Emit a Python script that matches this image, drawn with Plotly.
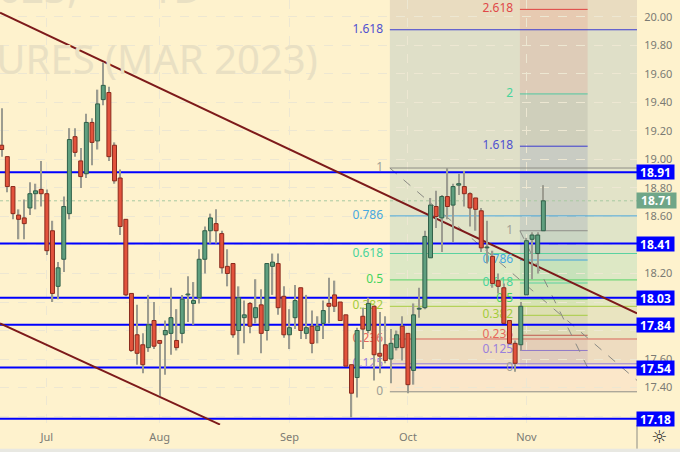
import plotly.graph_objects as go

FONT = "Noto Sans"
BG = "#fef2cd"

# daily candles, index 0 is the first bar on the left
opens = [19.10, 19.02, 18.81, 18.61, 18.59, 18.66, 18.76, 18.79, 18.76, 18.50,
         18.11, 18.30, 18.62, 19.16, 18.99, 18.90, 19.26, 19.13, 19.42, 19.47,
         19.10, 18.87, 18.58, 18.06, 17.77, 17.70, 17.68, 17.87, 17.73, 17.77,
         17.78, 17.73, 17.78, 18.05, 17.99, 18.03, 18.30, 18.50, 18.55, 18.48,
         18.25, 18.27, 17.80, 17.89, 17.99, 17.89, 17.98, 17.80, 18.25, 18.27,
         18.04, 17.77, 17.89, 18.10, 17.78, 17.83, 17.80, 17.85, 17.99, 18.05,
         18.00, 17.91, 17.56, 17.47, 17.90, 17.80, 17.97, 17.64, 17.70, 17.60,
         17.68, 17.83, 17.78, 17.52, 17.95, 17.96, 18.31, 18.67, 18.59, 18.74,
         18.68, 18.82, 18.81, 18.76, 18.73, 18.64, 18.38, 18.32, 18.15, 18.10,
         17.87, 17.71, 17.70, 18.05, 18.44, 18.34, 18.50]
highs = [19.36, 19.02, 18.81, 18.65, 18.72, 18.84, 18.83, 18.99, 18.79, 18.57,
         18.28, 18.74, 19.22, 19.22, 19.08, 19.32, 19.29, 19.49, 19.68, 19.51,
         19.12, 18.93, 18.58, 18.06, 17.98, 17.78, 18.05, 18.00, 17.73, 17.87,
         18.10, 17.95, 18.05, 18.18, 18.14, 18.37, 18.53, 18.62, 18.65, 18.50,
         18.37, 18.27, 18.11, 18.01, 18.00, 18.16, 18.09, 18.27, 18.34, 18.34,
         18.11, 17.95, 18.12, 18.10, 18.05, 17.94, 17.90, 18.01, 18.17, 18.15,
         18.00, 17.91, 17.56, 17.82, 17.96, 18.03, 17.97, 17.93, 17.90, 17.81,
         17.80, 17.90, 17.78, 17.99, 18.10, 18.50, 18.73, 18.78, 18.75, 18.94,
         18.83, 18.90, 18.92, 18.77, 18.73, 18.66, 18.57, 18.36, 18.20, 18.13,
         17.87, 17.73, 18.00, 18.45, 18.49, 18.49, 18.82]
lows = [19.02, 18.77, 18.58, 18.44, 18.44, 18.61, 18.65, 18.67, 18.33, 18.00,
        18.02, 18.21, 18.58, 19.02, 18.80, 18.87, 18.96, 19.07, 19.38, 18.99,
        18.83, 18.47, 18.04, 17.65, 17.56, 17.50, 17.65, 17.67, 17.34, 17.49,
        17.63, 17.66, 17.71, 17.86, 17.84, 17.99, 18.20, 18.41, 18.41, 18.20,
        18.11, 17.75, 17.63, 17.71, 17.78, 17.85, 17.64, 17.73, 18.05, 17.91,
        17.75, 17.67, 17.81, 17.74, 17.74, 17.64, 17.71, 17.74, 17.85, 17.93,
        17.87, 17.55, 17.19, 17.33, 17.67, 17.78, 17.45, 17.50, 17.57, 17.43,
        17.66, 17.59, 17.36, 17.42, 17.89, 17.95, 18.31, 18.52, 18.35, 18.58,
        18.42, 18.75, 18.67, 18.53, 18.50, 18.35, 18.27, 18.10, 18.06, 17.85,
        17.71, 17.51, 17.66, 18.05, 18.16, 18.20, 18.50]
closes = [19.07, 18.81, 18.62, 18.58, 18.55, 18.76, 18.78, 18.76, 18.36, 18.06,
          18.24, 18.67, 19.14, 19.05, 18.88, 19.26, 19.12, 19.39, 19.52, 19.02,
          18.85, 18.53, 18.05, 17.66, 17.64, 17.56, 17.84, 17.69, 17.71, 17.80,
          17.89, 17.68, 18.02, 18.05, 18.01, 18.30, 18.50, 18.59, 18.50, 18.24,
          18.20, 17.77, 18.03, 17.91, 17.83, 17.96, 17.78, 18.27, 18.28, 17.96,
          17.77, 17.82, 18.01, 17.80, 17.82, 17.71, 17.83, 17.94, 17.97, 17.97,
          17.87, 17.55, 17.36, 17.80, 17.81, 17.99, 17.63, 17.62, 17.59, 17.71,
          17.77, 17.68, 17.42, 17.91, 17.95, 18.46, 18.68, 18.60, 18.74, 18.67,
          18.81, 18.83, 18.76, 18.66, 18.65, 18.38, 18.38, 18.13, 18.11, 17.85,
          17.71, 17.57, 17.97, 18.43, 18.47, 18.47, 18.71]

month_idx = [8, 28, 51, 72, 93]
month_labels = ["Jul", "Aug", "Sep", "Oct", "Nov"]

price_ticks = [20.0, 19.8, 19.6, 19.4, 19.2, 19.0, 18.8, 18.6, 18.4, 18.2, 18.0, 17.8, 17.6, 17.4, 17.2]
price_labels = ["20.00", "19.80", "19.60", "19.40", "19.20", "19.00", "18.80", "18.60", "",
                "18.20", "", "", "17.60", "17.40", ""]

support_levels = [18.91, 18.41, 18.03, 17.84, 17.54, 17.18]
last_price = 18.71

# brown trend lines: bar index and price at each end
trend_x = [[-0.3, 112.6], [-0.3, 38.7]]
trend_y = [[20.03, 17.92], [17.85, 17.14]]

# fib retracement
fib_x = [68.8, 112.6]
fib_base = 17.37
fib_top = 18.94
fib_ratios = [0, 0.125, 0.236, 0.382, 0.5, 0.618, 0.786, 1, 1.618]
fib_labels = ["0", "0.125", "0.236", "0.382", "0.5", "0.618", "0.786", "1", "1.618"]
fib_line_colors = ["#8f8f88", "#8f78d8", "#d9655a", "#a8cc44", "#58d468", "#5ad2a0", "#45a5dc", "#8f8f88", "#3a3ad0"]
fib_text_colors = ["#a0a096", "#9a80dc", "#e8685c", "#a4cc3c", "#44d45c", "#48d49c", "#48a8e0", "#a0a096", "#5050d0"]
fib_fills = ["#fbe7c9", "#eedcc0", "#e9e4c0", "#e3e8c2", "#dde8c5", "#e0e4c8", "#e2e3c8", "#dfdfc8", "#e9dcc0"]

# trend based fib extension
ext_x = [91.85, 103.85]
ext_base = 17.54
ext_top = 18.50
ext_ratios = [0, 0.125, 0.236, 0.382, 0.5, 0.618, 0.786, 1, 1.618, 2, 2.618]
ext_labels = ["0", "0.125", "0.236", "0.382", "0.5", "0.618", "0.786", "1", "1.618", "2", "2.618"]
ext_line_colors = ["#8f8f88", "#8f78c8", "#c05a50", "#a8cc44", "#58d468", "#5ad2a0", "#45a5dc", "#8f8f88", "#3a3ad0", "#50c8a0", "#e04040"]
ext_text_colors = ["#a0a096", "#9a80dc", "#e8685c", "#a4cc3c", "#44d45c", "#48d49c", "#48a8e0", "#a0a096", "#5050d0", "#48d49c", "#e04848"]
ext_fills = ["rgba(120,90,170,0.12)", "rgba(150,90,110,0.10)", "rgba(110,130,90,0.10)",
             "rgba(120,190,60,0.10)", "rgba(70,200,90,0.12)", "rgba(70,190,130,0.14)",
             "rgba(70,130,170,0.14)", "rgba(70,90,170,0.14)", "rgba(110,110,110,0.14)",
             "rgba(220,70,70,0.12)", "rgba(220,70,70,0.12)"]

# dashed grey connectors of the fib tools
dash_x = [[68.8, 112.6], [91.85, 103.85]]
dash_y = [[18.94, 17.45], [18.50, 17.54]]

y_range = [17.137, 20.119]
x_range = [-0.3, 112.6]


def price_of(base, top, ratio):
    return base + (top - base) * ratio


shapes = []

# retracement shading and lines
for i, ratio in enumerate(fib_ratios):
    lower = price_of(fib_base, fib_top, fib_ratios[i - 1]) if i > 0 else None
    level = price_of(fib_base, fib_top, ratio)
    if lower is not None:
        shapes.append(dict(type="rect", layer="below", xref="x", yref="y", x0=fib_x[0], x1=fib_x[1],
                           y0=lower, y1=level, fillcolor=fib_fills[i - 1], line_width=0))
shapes.append(dict(type="rect", layer="below", xref="x", yref="y", x0=fib_x[0], x1=fib_x[1],
                   y0=price_of(fib_base, fib_top, fib_ratios[-1]), y1=y_range[1],
                   fillcolor=fib_fills[-1], line_width=0))

# extension shading
for i, ratio in enumerate(ext_ratios):
    level = price_of(ext_base, ext_top, ratio)
    upper = price_of(ext_base, ext_top, ext_ratios[i + 1]) if i < len(ext_ratios) - 1 else y_range[1]
    shapes.append(dict(type="rect", layer="below", xref="x", yref="y", x0=ext_x[0], x1=ext_x[1],
                       y0=level, y1=upper, fillcolor=ext_fills[i], line_width=0))

for i, ratio in enumerate(fib_ratios):
    level = price_of(fib_base, fib_top, ratio)
    shapes.append(dict(type="line", layer="between", xref="x", yref="y", x0=fib_x[0], x1=fib_x[1], y0=level, y1=level,
                       line=dict(color=fib_line_colors[i], width=1)))
for i, ratio in enumerate(ext_ratios):
    level = price_of(ext_base, ext_top, ratio)
    shapes.append(dict(type="line", layer="between", xref="x", yref="y", x0=ext_x[0], x1=ext_x[1], y0=level, y1=level,
                       line=dict(color=ext_line_colors[i], width=1)))

for xs, ys in zip(dash_x, dash_y):
    shapes.append(dict(type="line", layer="between", xref="x", yref="y", x0=xs[0], x1=xs[1], y0=ys[0], y1=ys[1],
                       line=dict(color="#8a8a84", width=1, dash="dash")))

shapes.append(dict(type="line", layer="between", xref="x", yref="y", x0=x_range[0], x1=x_range[1],
                   y0=last_price, y1=last_price, line=dict(color="#a9c9a2", width=1, dash="dot")))

for level in support_levels:
    shapes.append(dict(type="line", layer="between", xref="x", yref="y", x0=x_range[0], x1=x_range[1],
                       y0=level, y1=level, line=dict(color="#0000ff", width=2)))

for xs, ys in zip(trend_x, trend_y):
    shapes.append(dict(type="line", layer="between", xref="x", yref="y", x0=xs[0], x1=xs[1], y0=ys[0], y1=ys[1],
                       line=dict(color="#7d1a1a", width=2)))

# price scale divider and the strip under the chart
shapes.append(dict(type="line", xref="paper", yref="paper", x0=1, x1=1, y0=0, y1=-0.056,
                   line=dict(color="#8c8c84", width=1)))
shapes.append(dict(type="rect", xref="paper", yref="paper", x0=0, x1=1.07, y0=-0.064, y1=-0.056,
                   fillcolor="#e8e8e2", line_width=0))

fig = go.Figure()

# watermark and fib labels sit under the candles
fig.add_trace(go.Scatter(
    x=[56, 35.6], y=[19.67, 20.17],
    mode="text", text=["SUGAR #11 FUTURES (MAR 2023)", "SBH2023,\u00a0\u00a0\u00a0\u00a0\u00a0\u00a0\u00a01D"],
    textposition="middle left", textfont=dict(family=FONT, size=40, color="#e9e0c3"),
    hoverinfo="skip", showlegend=False, zorder=0))
fig.add_trace(go.Scatter(
    x=[fib_x[0] - 1.2] * len(fib_ratios), y=[price_of(fib_base, fib_top, r) for r in fib_ratios],
    mode="text", text=fib_labels, textposition="middle left",
    textfont=dict(family=FONT, size=12, color=fib_text_colors), hoverinfo="skip", showlegend=False, zorder=0))
fig.add_trace(go.Scatter(
    x=[ext_x[0] - 1.2] * len(ext_ratios), y=[price_of(ext_base, ext_top, r) for r in ext_ratios],
    mode="text", text=ext_labels, textposition="middle left",
    textfont=dict(family=FONT, size=12, color=ext_text_colors), hoverinfo="skip", showlegend=False, zorder=0))

idx = list(range(len(opens)))

# wicks
fig.add_trace(go.Bar(
    x=idx, base=lows, y=[h - l for h, l in zip(highs, lows)], width=0.24,
    marker=dict(color="#9c9c90", line_width=0), hoverinfo="skip", showlegend=False, zorder=1))

# bodies
for is_up, fill, edge in [(True, "#5f9f7f", "#2f5f48"), (False, "#e2523c", "#8a2a1c")]:
    sel = [i for i in idx if (closes[i] >= opens[i]) == is_up]
    fig.add_trace(go.Bar(
        x=sel, base=[min(opens[i], closes[i]) for i in sel],
        y=[max(abs(closes[i] - opens[i]), 0.006) for i in sel], width=0.7,
        marker=dict(color=fill, line=dict(color=edge, width=1)),
        hoverinfo="skip", showlegend=False, zorder=2))

annotations = []
for level in support_levels:
    annotations.append(dict(x=1.0, xref="paper", y=level, yref="y", xanchor="left", yanchor="middle",
                            text=f"<b>{level:.2f}</b>", showarrow=False, bgcolor="#0000ff", width=37, height=14,
                            borderpad=0, xshift=-1, font=dict(family=FONT, size=12, color="white")))
annotations.append(dict(x=1.0, xref="paper", y=last_price, yref="y", xanchor="left", yanchor="middle",
                        text=f"<b>{last_price:.2f}</b>", showarrow=False, bgcolor="#6fa688", width=39, height=15,
                        borderpad=0, xshift=-1, font=dict(family=FONT, size=12, color="white")))
annotations.append(dict(x=1.0, xref="paper", y=0, yref="paper", xanchor="center", yanchor="top", xshift=22, yshift=1,
                        text="\u263c", showarrow=False, font=dict(family="DejaVu Sans", size=18, color="#303030")))

fig.update_layout(
    width=680, height=452, autosize=False, margin=dict(l=0, r=43, t=0, b=27),
    paper_bgcolor=BG, plot_bgcolor=BG, barmode="overlay", showlegend=False,
    shapes=shapes, annotations=annotations, font=dict(family=FONT, size=11, color="#7b7b74"),
)
fig.update_xaxes(range=x_range, tickmode="array", tickvals=month_idx, ticktext=month_labels, ticklen=0,
                 showgrid=True, gridcolor="#ede7d2", griddash="dash", gridwidth=1, zeroline=False,
                 showline=True, linecolor="#8c8c84", linewidth=1, ticklabelstandoff=2)
fig.update_yaxes(range=y_range, side="right", tickmode="array", tickvals=price_ticks, ticktext=price_labels, ticklen=0,
                 showgrid=True, gridcolor="#ede7d2", griddash="dash", gridwidth=1, zeroline=False,
                 showline=True, linecolor="#8c8c84", linewidth=1, ticklabelstandoff=4)

fig.write_html("out.html", config=dict(displayModeBar=False), post_script="document.body.style.margin='0';")
